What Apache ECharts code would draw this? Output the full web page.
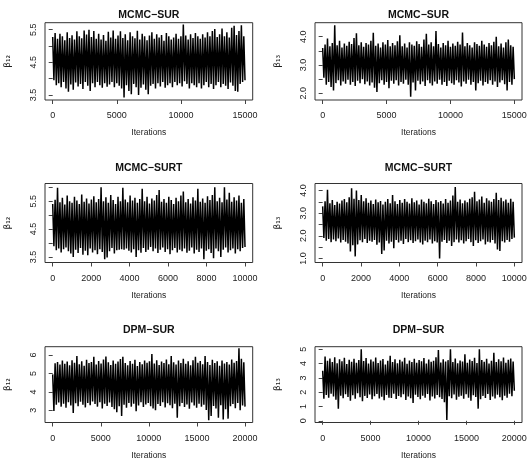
<!DOCTYPE html>
<html style="height: 100%">
<head>
<meta charset="utf-8">
<script type="text/javascript" src="https://cdn.jsdelivr.net/npm/echarts@6/dist/echarts.min.js"></script>
<script type="text/javascript">
// 每段迭代的最大/最小值（从图上读出，每个面板80段）
var hi_sur12 = [5.28,5.40,5.22,5.38,5.30,5.18,5.42,5.25,5.33,5.20,5.45,5.30,5.24,5.48,5.35,5.50,5.28,5.46,5.22,5.38,
5.20,5.34,5.16,5.44,5.26,5.48,5.22,5.32,5.45,5.25,5.36,5.18,5.42,5.30,5.24,5.47,5.20,5.38,5.30,5.18,
5.32,5.42,5.22,5.36,5.26,5.34,5.16,5.40,5.30,5.20,5.26,5.38,5.22,5.30,5.66,5.32,5.20,5.36,5.25,5.40,
5.30,5.22,5.36,5.26,5.42,5.30,5.46,5.52,5.28,5.36,5.54,5.30,5.42,5.26,5.56,5.62,5.34,5.46,5.64,5.30];
var lo_sur12 = [3.95,3.80,3.86,3.74,3.90,3.70,3.60,3.82,3.66,3.88,3.76,3.84,3.68,3.90,3.78,3.62,3.86,3.74,3.90,3.80,
3.72,3.86,3.75,3.82,3.90,3.74,3.86,3.78,3.70,3.42,3.80,3.62,3.52,3.84,3.74,3.50,3.72,3.82,3.66,3.52,
3.78,3.84,3.70,3.86,3.76,3.90,3.72,3.80,3.86,3.74,3.90,3.80,3.86,3.76,3.92,3.84,3.70,3.86,3.80,3.74,
3.86,3.70,3.80,3.90,3.74,3.84,3.68,3.80,3.90,3.74,3.84,3.78,3.68,3.88,3.78,3.62,3.60,3.84,3.90,3.95];

var hi_sur13 = [3.60,3.72,3.94,3.66,3.78,4.40,3.70,3.86,3.62,3.76,3.68,3.82,3.74,3.95,4.12,3.70,3.80,3.64,3.78,3.72,
3.86,4.14,3.68,3.76,3.62,3.80,3.72,3.88,3.66,3.78,3.70,3.84,4.05,3.66,3.76,3.62,3.80,3.72,3.68,3.84,
3.74,3.64,3.90,4.10,3.72,3.80,3.66,4.20,3.74,3.62,3.78,3.70,3.86,3.64,3.76,3.68,3.82,3.72,4.15,3.66,
3.78,3.70,3.62,3.80,3.74,3.68,3.86,3.72,3.64,3.78,3.70,3.82,4.00,3.66,3.76,3.62,3.80,3.90,3.70,3.64];
var lo_sur13 = [2.55,2.30,2.40,2.22,2.10,2.36,2.46,2.28,2.42,2.34,2.48,2.30,2.40,2.26,2.44,2.36,2.50,2.32,2.42,2.28,
2.38,2.20,2.05,2.36,2.46,2.30,2.40,2.18,2.44,2.34,2.46,2.28,2.40,2.34,2.48,2.30,1.88,2.38,2.10,2.44,
2.32,2.42,2.26,2.46,2.36,2.28,2.42,2.34,2.48,2.30,2.40,2.26,2.44,2.36,2.30,2.46,2.38,2.24,2.42,2.34,
2.48,2.30,2.40,2.10,2.36,2.44,2.28,2.40,2.34,2.46,2.30,2.42,2.22,2.38,2.46,2.32,2.10,2.40,2.30,2.50];

var hi_surt12 = [5.40,5.55,5.98,5.46,5.62,5.38,5.70,5.50,5.44,5.66,5.52,5.40,5.74,5.48,5.60,5.42,5.56,5.68,5.46,5.58,
6.00,5.50,5.64,5.44,5.72,5.54,5.40,5.66,5.50,5.98,5.56,5.46,5.70,5.52,5.62,5.44,5.58,5.95,5.50,5.66,
5.42,5.60,5.52,5.72,5.90,5.48,5.58,5.44,5.66,5.54,5.40,5.62,5.50,5.70,5.85,5.46,5.58,5.42,5.64,5.52,
5.95,5.48,5.60,5.44,5.68,5.54,5.72,6.00,5.50,5.62,5.46,6.00,5.56,5.80,5.48,5.64,5.52,5.70,5.44,5.58];
var lo_surt12 = [3.88,3.74,3.80,3.66,3.78,3.84,3.70,3.62,3.50,3.76,3.64,3.82,3.58,3.72,3.56,3.80,3.66,3.74,3.60,3.78,
3.68,3.42,3.48,3.70,3.82,3.62,3.74,3.76,3.78,3.76,3.80,3.72,3.66,3.78,3.50,3.74,3.65,3.82,3.68,3.76,
3.86,3.70,3.80,3.64,3.76,3.84,3.68,3.78,3.60,3.74,3.82,3.66,3.76,3.70,3.80,3.65,3.72,3.84,3.62,3.76,
3.68,3.80,3.42,3.72,3.78,3.64,3.45,3.80,3.70,3.50,3.76,3.84,3.66,3.74,3.80,3.62,3.78,3.70,3.82,3.86];

var hi_surt13 = [3.30,3.52,4.03,3.44,3.58,3.36,3.50,3.42,3.56,3.62,3.48,3.70,4.10,3.64,4.00,3.58,3.80,3.52,3.66,3.46,
3.56,3.40,3.60,3.48,3.54,3.38,3.50,3.62,3.44,3.80,3.52,3.40,3.58,3.46,3.62,3.50,3.42,3.66,3.48,3.56,
3.38,3.60,3.50,3.44,3.64,3.52,3.40,3.58,3.48,3.54,3.42,3.62,3.46,3.56,3.78,4.15,3.50,3.60,3.44,3.56,
3.48,3.64,3.70,3.95,3.52,3.60,3.74,3.46,3.66,3.56,3.50,3.62,3.90,3.58,3.68,3.52,3.60,3.46,3.64,3.50];
var lo_surt13 = [1.90,1.78,1.86,1.72,1.84,1.76,1.88,1.70,1.82,1.74,1.66,1.31,1.58,1.09,1.62,1.80,1.72,1.86,1.68,1.78,
1.74,1.82,1.60,1.70,1.20,1.35,1.78,1.66,1.74,1.45,1.82,1.70,1.78,1.64,1.86,1.72,1.80,1.68,1.76,1.84,
1.70,1.62,1.78,1.72,1.84,1.66,1.76,1.70,1.00,1.74,1.82,1.68,1.78,1.55,1.72,1.84,1.70,1.80,1.66,1.76,
1.86,1.72,1.55,1.80,1.68,1.76,1.84,1.62,1.74,1.70,1.82,1.66,1.40,1.33,1.76,1.70,1.82,1.74,1.86,1.92];

var hi_dpm12 = [4.95,5.55,5.62,5.48,5.70,5.52,5.64,5.44,5.72,5.58,5.95,5.50,5.66,5.42,5.74,5.56,5.62,5.90,5.48,5.68,
5.54,5.76,5.92,5.60,5.46,5.70,5.52,5.64,5.78,5.90,5.56,5.44,5.68,5.52,5.74,5.40,5.62,5.50,5.70,5.58,
5.66,6.05,5.54,5.72,5.46,5.64,5.56,5.76,5.50,5.95,5.60,5.48,5.70,5.56,5.80,5.52,5.66,5.44,5.72,5.90,
5.58,5.68,5.50,5.95,5.62,5.46,5.74,5.56,5.66,5.42,5.70,5.54,5.62,5.48,5.76,5.58,5.68,6.37,5.80,5.60];
var lo_dpm12 = [2.96,3.30,3.42,3.20,3.36,3.14,3.44,3.26,2.85,3.38,3.22,3.46,3.30,3.16,3.40,3.28,3.48,3.34,3.20,3.44,
3.10,3.36,3.24,3.42,3.18,3.06,2.90,3.22,2.70,3.30,3.14,3.40,3.20,3.36,2.95,3.26,3.44,3.18,3.32,3.40,
3.22,3.10,3.00,3.34,3.24,3.44,3.16,3.38,3.28,3.12,3.36,2.60,3.22,3.40,3.18,3.32,3.08,3.42,3.26,3.14,
3.36,3.20,3.30,3.02,2.46,2.70,3.24,3.10,2.60,3.28,2.50,3.06,2.55,3.22,3.34,3.12,3.40,3.00,3.26,3.20];

var hi_dpm13 = [3.50,4.50,4.20,4.36,4.10,4.44,4.02,4.30,4.16,4.40,3.96,4.26,4.12,4.34,4.06,4.24,5.00,4.18,4.38,4.00,
4.28,4.14,4.42,4.04,4.22,4.32,3.94,4.20,4.55,4.10,4.30,4.02,4.26,4.14,4.40,3.98,4.22,4.10,4.34,4.06,
4.24,4.16,4.38,4.00,4.28,4.12,4.20,4.44,4.95,4.08,4.30,4.14,4.24,5.00,4.10,4.36,4.02,4.22,4.14,4.65,
4.06,4.28,4.18,4.40,4.04,5.00,4.24,4.12,4.34,4.00,4.20,4.75,4.10,4.30,4.16,4.42,4.06,4.26,4.36,4.14];
var lo_dpm13 = [1.55,1.80,1.62,1.90,1.70,1.48,0.84,1.76,1.58,1.86,1.66,1.40,1.78,1.54,1.92,1.64,1.36,1.74,1.60,1.84,
1.50,1.72,1.88,1.56,1.68,1.44,1.80,1.62,1.60,1.90,1.52,1.74,1.64,1.86,1.46,1.70,1.58,1.25,1.82,1.66,
1.50,1.76,1.62,1.88,1.42,1.70,1.56,1.80,1.64,1.52,1.30,0.05,1.72,1.58,1.84,1.48,1.68,1.76,1.54,1.86,
1.62,1.40,1.78,1.66,0.85,1.50,1.74,1.60,1.88,1.46,1.70,1.56,1.82,1.64,1.44,1.76,1.62,1.90,1.72,2.10];

var titles = ['MCMC\u2212SUR', 'MCMC\u2212SUR', 'MCMC\u2212SURT', 'MCMC\u2212SURT', 'DPM\u2212SUR', 'DPM\u2212SUR'];
var yNames = ['\u03b2\u2081\u2082', '\u03b2\u2081\u2083', '\u03b2\u2081\u2082', '\u03b2\u2081\u2083', '\u03b2\u2081\u2082', '\u03b2\u2081\u2083'];
var iters = [15000, 15000, 10000, 10000, 20000, 20000];
var xTicks = [
    [0, 5000, 10000, 15000], [0, 5000, 10000, 15000],
    [0, 2000, 4000, 6000, 8000, 10000], [0, 2000, 4000, 6000, 8000, 10000],
    [0, 5000, 10000, 15000, 20000], [0, 5000, 10000, 15000, 20000]
];
var yTicks = [
    [3.5, 4, 4.5, 5, 5.5], [2, 2.5, 3, 3.5, 4],
    [3.5, 4, 4.5, 5, 5.5, 6], [1, 1.5, 2, 2.5, 3, 3.5, 4],
    [3, 4, 5, 6], [0, 1, 2, 3, 4, 5]
];
var yLabels = [
    [3.5, 4.5, 5.5], [2, 3, 4],
    [3.5, 4.5, 5.5], [1, 2, 3, 4],
    [3, 4, 5, 6], [0, 1, 2, 3, 4, 5]
];
var yDigits = [1, 1, 1, 1, 0, 0];
var yRange = [[3.346, 5.716], [1.763, 4.495], [3.30, 6.135], [0.82, 4.31], [2.34, 6.45], [-0.12, 5.18]];
var his = [hi_sur12, hi_sur13, hi_surt12, hi_surt13, hi_dpm12, hi_dpm13];
var los = [lo_sur12, lo_sur13, lo_surt12, lo_surt13, lo_dpm12, lo_dpm13];
</script>
</head>
<body style="height: 100%; margin: 0; background: #fff">
<div id="container" style="width: 532px; height: 461px"></div>
<script type="text/javascript">
// 把每段的最大/最小值交替连成折线，效果就是密集的trace
function zig(hi, lo, max) {
    var n = hi.length * 2;
    var out = [];
    for (var k = 0; k < n; k++) {
        var v = (k % 2 == 0) ? hi[k / 2] : lo[(k - 1) / 2];
        out.push([k * max / (n - 1), v]);
    }
    return out;
}

var boxes = [
    [45, 22.7, 207.7, 77.3], [315, 22.7, 207, 77.3],
    [45, 183.5, 207.7, 79], [315, 183.5, 207, 79],
    [45, 346.7, 207.7, 77.3], [315, 346.7, 207, 77.3]
];
var titleTop = [10, 10, 162.2, 162.2, 325, 325];
var fontFam = 'Liberation Sans, Arial, sans-serif';

var grid = [], xAxis = [], yAxis = [], series = [], title = [];
for (var i = 0; i < 6; i++) {
    var b = boxes[i];
    grid.push({left: b[0], top: b[1], width: b[2], height: b[3], show: true,
        borderColor: '#333', borderWidth: 1, backgroundColor: 'transparent'});
    title.push({text: titles[i], left: b[0] + b[2] / 2, top: titleTop[i], textAlign: 'center', padding: 0,
        textStyle: {fontSize: 10.5, fontWeight: 'bold', color: '#111', fontFamily: fontFam}});
    var pad = iters[i] * 0.04;
    xAxis.push({
        type: 'value', gridIndex: i, min: -pad, max: iters[i] + pad,
        name: 'Iterations', nameLocation: 'middle', nameGap: 28.5,
        nameTextStyle: {fontSize: 8.5, color: '#222', fontFamily: fontFam},
        axisLine: {show: false},
        splitLine: {show: false},
        axisTick: {show: true, inside: false, length: 4, customValues: xTicks[i], lineStyle: {color: '#444'}},
        axisLabel: {show: true, customValues: xTicks[i], margin: 11.5, fontSize: 9, color: '#222', fontFamily: fontFam,
            formatter: function (v) { return String(v); }}
    });
    (function (d) {
        yAxis.push({
            type: 'value', gridIndex: i, min: yRange[i][0], max: yRange[i][1],
            name: yNames[i], nameLocation: 'middle', nameGap: 33, nameRotate: 90,
            nameTextStyle: {fontSize: 9, color: '#222', fontFamily: 'DejaVu Sans, sans-serif'},
            axisLine: {show: false},
            splitLine: {show: false},
            axisTick: {show: true, inside: false, length: 4, customValues: yTicks[i], lineStyle: {color: '#444'}},
            axisLabel: {show: true, customValues: yLabels[i], rotate: 90, margin: 7, fontSize: 9,
                color: '#222', fontFamily: fontFam,
                formatter: function (v) { return Number(v).toFixed(d); }}
        });
    })(yDigits[i]);
    series.push({
        type: 'line', xAxisIndex: i, yAxisIndex: i,
        data: zig(his[i], los[i], iters[i]),
        showSymbol: false, symbol: 'none', silent: true, sampling: null,
        lineStyle: {color: '#000', width: 1.5, join: 'miter', miterLimit: 2}
    });
}

var myChart = echarts.init(document.getElementById('container'), null, {renderer: 'canvas'});
myChart.setOption({
    backgroundColor: '#fff',
    animation: false,
    title: title,
    grid: grid,
    xAxis: xAxis,
    yAxis: yAxis,
    series: series
});
</script>
</body>
</html>
